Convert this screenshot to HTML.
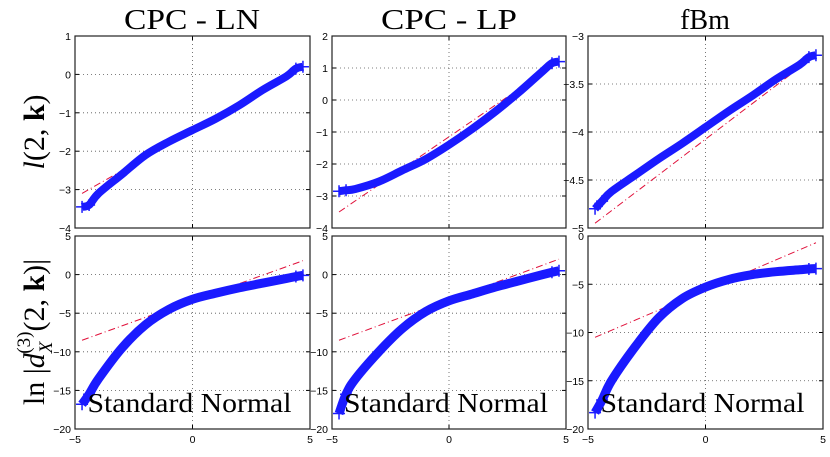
<!DOCTYPE html>
<html><head><meta charset="utf-8">
<style>
html,body{margin:0;padding:0;background:#fff;width:830px;height:457px;overflow:hidden}
svg{display:block}
.tick{font-family:"Liberation Sans",sans-serif;font-size:10.5px;fill:#000}
</style></head>
<body>
<svg id="chart" width="830" height="457" viewBox="0 0 830 457" xmlns="http://www.w3.org/2000/svg">
<g font-family="Liberation Serif, DejaVu Serif, Times New Roman, serif" fill="#000">
<text x="192" y="29" font-size="28" text-anchor="middle" textLength="136" lengthAdjust="spacingAndGlyphs">CPC - LN</text>
<text x="449" y="29" font-size="28" text-anchor="middle" textLength="136" lengthAdjust="spacingAndGlyphs">CPC - LP</text>
<text x="705" y="29" font-size="28" text-anchor="middle">fBm</text>
<text transform="translate(44,132) rotate(-90)" font-size="30" text-anchor="middle"><tspan font-style="italic">l</tspan>(2, <tspan font-weight="bold">k</tspan>)</text>
<text transform="translate(44,332) rotate(-90)" font-size="30" text-anchor="middle">ln |<tspan font-style="italic">d</tspan><tspan font-style="italic" font-size="19" dy="8">X</tspan><tspan font-size="19" dx="-12" dy="-22">(3)</tspan><tspan dy="14">(2, </tspan><tspan font-weight="bold">k</tspan>)|</text>
</g>
</svg>
<script>
const xs = [-4.7,-4.4,-4,-3,-2,-1,0,1,2,3,4,4.4,4.7];
const s1 = [-3.45,-3.4,-3.1,-2.6,-2.1,-1.75,-1.45,-1.15,-0.8,-0.4,-0.05,0.15,0.2];
const s2 = [-2.85,-2.82,-2.78,-2.55,-2.2,-1.85,-1.4,-0.9,-0.35,0.25,0.9,1.15,1.2];
const s3 = [-4.8,-4.72,-4.62,-4.45,-4.28,-4.12,-3.95,-3.78,-3.62,-3.45,-3.3,-3.22,-3.2];
const s4 = [-16.8,-15.5,-13.5,-9.5,-6.5,-4.5,-3.2,-2.4,-1.7,-1.1,-0.5,-0.25,-0.1];
const s5 = [-18,-15.5,-13.5,-10,-7,-4.8,-3.4,-2.5,-1.6,-0.8,0,0.3,0.5];
const s6 = [-18.3,-17,-15,-11.5,-8.5,-6.5,-5.3,-4.5,-4,-3.7,-3.5,-3.42,-3.38];
const refX = [-4.7,4.7];
const ref1 = [-3.1,0.2];
const ref2 = [-3.5,1.2];
const ref3 = [-4.95,-3.2];
const ref4 = [-8.5,1.8];
const ref5 = [-8.5,2];
const ref6 = [-10.5,-0.7];
const yTicks1 = [1,0,-1,-2,-3,-4];
const yTicks2 = [2,1,0,-1,-2,-3,-4];
const yTicks3 = [-3,-3.5,-4,-4.5,-5];
const yTicks4 = [5,0,-5,-10,-15,-20];
const yTicks6 = [0,-5,-10,-15,-20];
const xTicks = [-5,0,5];

const NS="http://www.w3.org/2000/svg";
const svg=document.getElementById('chart');
function mk(tag,attrs,parent){const e=document.createElementNS(NS,tag);for(const k in attrs)e.setAttribute(k,attrs[k]);(parent||svg).appendChild(e);return e;}
function smooth(P){let d=`M${P[0][0]},${P[0][1]}`;for(let i=0;i<P.length-1;i++){const p0=P[Math.max(0,i-1)],p1=P[i],p2=P[i+1],p3=P[Math.min(P.length-1,i+2)];
 const c1x=p1[0]+(p2[0]-p0[0])/6,c1y=p1[1]+(p2[1]-p0[1])/6,c2x=p2[0]-(p3[0]-p1[0])/6,c2y=p2[1]-(p3[1]-p1[1])/6;
 d+=` C${c1x},${c1y} ${c2x},${c2y} ${p2[0]},${p2[1]}`;}return d;}
const panels=[
 {id:'ln-top',x0:75,x1:310,y0:36,y1:228,ymin:-4,ymax:1,t:yTicks1,s:s1,r:ref1,bottom:false},
 {id:'lp-top',x0:332,x1:566,y0:36,y1:228,ymin:-4,ymax:2,t:yTicks2,s:s2,r:ref2,bottom:false},
 {id:'fbm-top',x0:588,x1:823,y0:36,y1:228,ymin:-5,ymax:-3,t:yTicks3,s:s3,r:ref3,bottom:false},
 {id:'ln-bottom',x0:75,x1:310,y0:236,y1:429,ymin:-20,ymax:5,t:yTicks4,s:s4,r:ref4,bottom:true},
 {id:'lp-bottom',x0:332,x1:566,y0:236,y1:429,ymin:-20,ymax:5,t:yTicks4,s:s5,r:ref5,bottom:true},
 {id:'fbm-bottom',x0:588,x1:823,y0:236,y1:429,ymin:-20,ymax:0,t:yTicks6,s:s6,r:ref6,bottom:true}
];
panels.forEach(p=>{
 const g=mk('g',{});
 
 
 const X=v=>p.x0+(v+5)/10*(p.x1-p.x0);
 const Y=v=>p.y1-(v-p.ymin)/(p.ymax-p.ymin)*(p.y1-p.y0);
 mk('rect',{x:p.x0,y:p.y0,width:p.x1-p.x0,height:p.y1-p.y0,fill:'#fff'},g);
 p.t.forEach(v=>{
  const y=Y(v);
  if(v>p.ymin&&v<p.ymax){const l=mk('line',{x1:p.x0,x2:p.x1,y1:y,y2:y,stroke:'#555','stroke-width':0.8,'stroke-dasharray':'1,3'},g);
   }
  mk('line',{x1:p.x0,x2:p.x0+4,y1:y,y2:y,stroke:'#000'},g);
  mk('line',{x1:p.x1,x2:p.x1-4,y1:y,y2:y,stroke:'#000'},g);
  const t=mk('text',{x:p.x0-4,y:y+4,'text-anchor':'end',class:'tick'},g);
  t.textContent=(v<0?'\u2212':'')+Math.abs(v);
  
 });
 mk('line',{x1:X(0),x2:X(0),y1:p.y0,y2:p.y1,stroke:'#555','stroke-width':0.8,'stroke-dasharray':'1,3'},g);
 xTicks.forEach(v=>{
  mk('line',{x1:X(v),x2:X(v),y1:p.y1,y2:p.y1-4,stroke:'#000'},g);
  mk('line',{x1:X(v),x2:X(v),y1:p.y0,y2:p.y0+4,stroke:'#000'},g);
  if(p.bottom){const t=mk('text',{x:X(v),y:p.y1+14,'text-anchor':'middle',class:'tick'},g);
   t.textContent=(v<0?'\u2212':'')+Math.abs(v);
   }
 });
 const rl=mk('line',{x1:X(refX[0]),y1:Y(p.r[0]),x2:X(refX[1]),y2:Y(p.r[1]),stroke:'#e0103a','stroke-width':1,'stroke-dasharray':'7,3,1,3'},g);
 
 const P=xs.map((x,i)=>[X(x),Y(p.s[i])]);
 const band=mk('path',{d:smooth(P),fill:'none',stroke:'#1a1aff','stroke-width':p.bottom?9:8,'stroke-linejoin':'round','stroke-linecap':'butt'},g);
 
 [0,1,xs.length-2,xs.length-1].forEach(i=>{
  const cx=X(xs[i]),cy=Y(p.s[i]);
  const m=mk('path',{d:`M${cx-6},${cy}H${cx+6}M${cx},${cy-6}V${cy+6}`,stroke:'#1a1aff','stroke-width':1.5},g);
  
 });
 mk('rect',{x:p.x0,y:p.y0,width:p.x1-p.x0,height:p.y1-p.y0,fill:'none',stroke:'#222','stroke-width':1.2},g);
 if(p.bottom){
  const t=mk('text',{x:(p.x0+p.x1)/2-3,y:p.y1-17,'text-anchor':'middle','font-family':'Liberation Serif, DejaVu Serif, serif','font-size':27,textLength:204,lengthAdjust:'spacingAndGlyphs',fill:'#000'},g);
  t.textContent='Standard Normal';
  
 }
});
</script>
</body></html>
